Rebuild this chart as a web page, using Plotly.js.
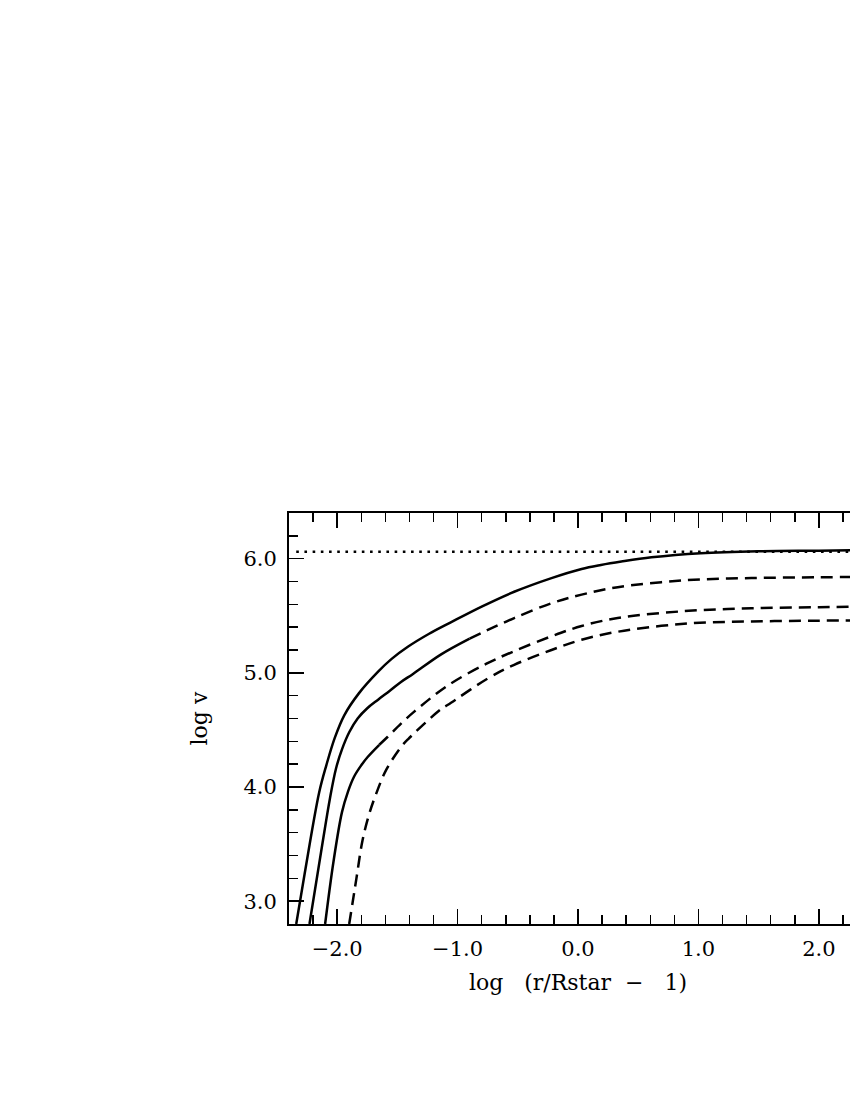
<!DOCTYPE html>
<html>
<head>
<meta charset="utf-8">
<script src="https://cdn.plot.ly/plotly-3.0.1.min.js"></script>
<style>html,body{margin:0;padding:0;overflow:hidden;background:#fff;}</style>
</head>
<body>
<div id="chart"></div>
<script>
// ---- data ----
const curve1X = [-2.34, -2.27, -2.15, -2.09, -2.02, -1.94, -1.82, -1.66, -1.55, -1.41, -1.24, -1.06, -0.80, -0.53, -0.22, 0.03, 0.19, 0.36, 0.61, 1.02, 1.50, 2.00, 2.40];
const curve1Y = [2.80, 3.24, 3.95, 4.19, 4.43, 4.63, 4.82, 5.01, 5.12, 5.23, 5.34, 5.44, 5.58, 5.71, 5.83, 5.91, 5.945, 5.975, 6.012, 6.048, 6.065, 6.07, 6.075];

const curve2X = [-2.23, -2.12, -2.06, -2.01, -1.96, -1.90, -1.83, -1.75, -1.66, -1.56, -1.47, -1.37, -1.14, -0.90, -0.76, -0.53, -0.22, 0.03, 0.33, 0.88, 1.44, 2.00, 2.40];
const curve2Y = [2.80, 3.52, 3.90, 4.16, 4.33, 4.48, 4.60, 4.69, 4.765, 4.845, 4.92, 4.99, 5.16, 5.30, 5.37, 5.48, 5.61, 5.685, 5.75, 5.81, 5.83, 5.837, 5.84];
const curve2SolidEnd = -0.90;

const curve3X = [-2.10, -2.03, -1.96, -1.91, -1.86, -1.80, -1.745, -1.65, -1.58, -1.47, -1.36, -1.08, -0.76, -0.53, -0.22, 0.03, 0.33, 0.88, 1.44, 2.00, 2.40];
const curve3Y = [2.80, 3.35, 3.78, 3.96, 4.09, 4.19, 4.265, 4.37, 4.44, 4.555, 4.66, 4.89, 5.08, 5.19, 5.32, 5.41, 5.48, 5.54, 5.565, 5.575, 5.58];
const curve3SolidEnd = -1.65;

const curve4X = [-1.90, -1.84, -1.79, -1.735, -1.68, -1.593, -1.47, -1.41, -1.14, -1.08, -0.75, -0.53, -0.22, 0.03, 0.33, 0.88, 1.44, 2.00, 2.40];
const curve4Y = [2.80, 3.20, 3.53, 3.76, 3.93, 4.15, 4.35, 4.42, 4.68, 4.72, 4.95, 5.07, 5.20, 5.29, 5.36, 5.43, 5.45, 5.457, 5.46];

const limitX = [-2.34, 2.40];
const limitY = [6.06, 6.06];

const xTitle = 'log\u00a0\u00a0\u00a0(r/Rstar\u00a0\u00a0\u2212\u00a0\u00a0\u00a01)';
const yTitle = 'log v';

// ---- helpers ----
function part(xs, ys, lo, hi) {
  const px = [], py = [];
  xs.forEach((x, i) => { if (x >= lo && x <= hi) { px.push(x); py.push(ys[i]); } });
  return {x: px, y: py};
}
const FONT = 'DejaVu Serif, Liberation Serif, serif';
const solid = {color: '#000', width: 2.5, dash: 'solid', shape: 'spline', smoothing: 1};
const dashed = {color: '#000', width: 2.5, dash: '12px,7px', shape: 'spline', smoothing: 1};

const c2s = part(curve2X, curve2Y, -99, curve2SolidEnd);
const c2d = part(curve2X, curve2Y, curve2SolidEnd, 99);
const c3s = part(curve3X, curve3Y, -99, curve3SolidEnd);
const c3d = part(curve3X, curve3Y, curve3SolidEnd, 99);

const traces = [
  {x: limitX, y: limitY, mode: 'lines', line: {color: '#000', width: 2.6, dash: '2.6px,5.6px'}},
  {x: curve1X, y: curve1Y, mode: 'lines', line: solid},
  {x: c2s.x, y: c2s.y, mode: 'lines', line: solid},
  {x: c2d.x, y: c2d.y, mode: 'lines', line: dashed},
  {x: c3s.x, y: c3s.y, mode: 'lines', line: solid},
  {x: c3d.x, y: c3d.y, mode: 'lines', line: dashed},
  {x: curve4X, y: curve4Y, mode: 'lines', line: dashed}
];

const axisCommon = {
  ticks: 'inside', ticklen: 15, tickwidth: 1.5, tickcolor: '#000',
  showline: true, linewidth: 2, linecolor: '#000', mirror: 'ticks',
  showgrid: false, zeroline: false, tickformat: '.1f',
  tickfont: {family: FONT, size: 21, color: '#000'},
  minor: {dtick: 0.2, ticks: 'inside', ticklen: 9, tickwidth: 1.5, tickcolor: '#000', showgrid: false}
};

const W = 900;
const layout = {
  width: W, height: 1100,
  margin: {l: 289, r: W - 867.4, t: 513, b: 176, pad: 0},
  paper_bgcolor: '#fff', plot_bgcolor: '#fff',
  showlegend: false,
  xaxis: Object.assign({}, axisCommon, {
    range: [-2.4, 2.4], tick0: 0, dtick: 1,
    ticklabelstandoff: 5,
    title: {text: xTitle, font: {family: FONT, size: 22, color: '#000'}, standoff: 14}
  }),
  yaxis: Object.assign({}, axisCommon, {
    range: [2.8, 6.4], tick0: 0, dtick: 1,
    ticklabelstandoff: 6,
    title: {text: yTitle, font: {family: FONT, size: 22, color: '#000'}, standoff: 30}
  })
};

Plotly.newPlot('chart', traces, layout, {staticPlot: true, displayModeBar: false});
</script>
</body>
</html>
